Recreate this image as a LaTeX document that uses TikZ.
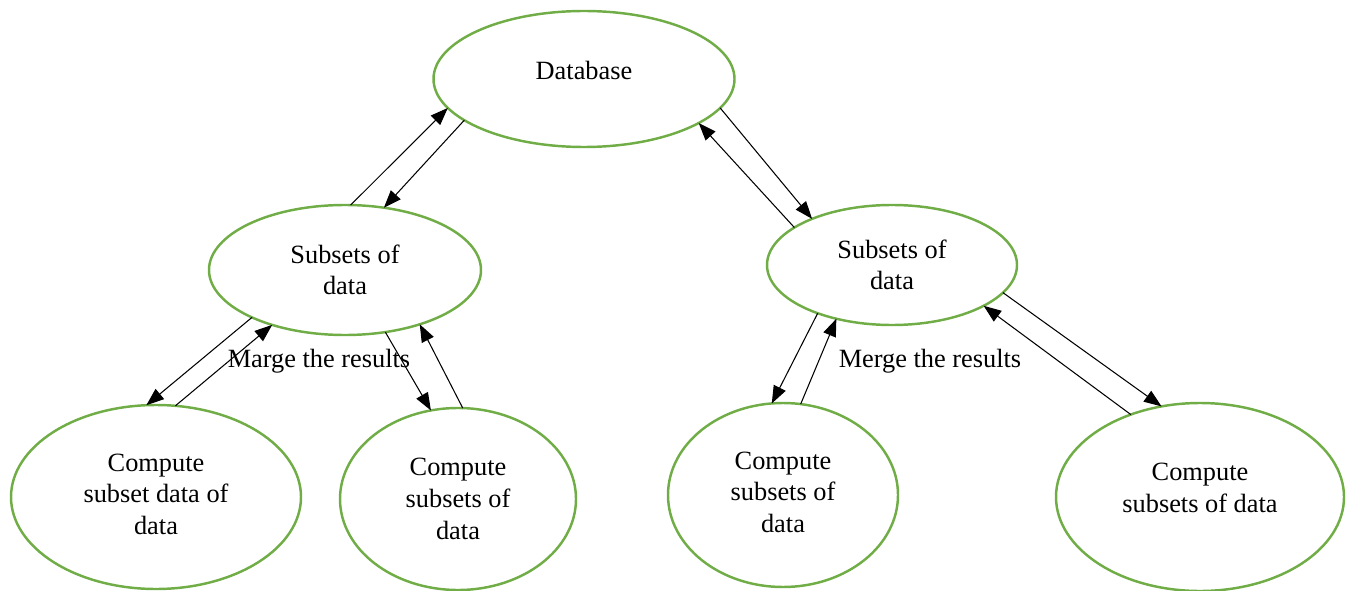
\documentclass[tikz,border=0pt]{standalone}
\usepackage{fontspec}
\setmainfont{Liberation Serif}
\usepackage{tikz}
\usetikzlibrary{arrows.meta,shapes.geometric}
\definecolor{ellgreen}{RGB}{112,173,71}

\begin{document}
\begin{tikzpicture}[x=0.02cm, y=-0.02cm]
  \tikzset{blob/.style={ellipse, draw=ellgreen, line width=1.4pt, inner sep=0pt, outer sep=0pt, align=center, font=\fontsize{15pt}{18pt}\selectfont}}
  \tikzset{plain/.style={inner sep=0pt, font=\fontsize{15pt}{18pt}\selectfont}}
  \useasboundingbox (0,0) rectangle (1348,591);
  \node[blob, minimum width=301*0.02cm, minimum height=136*0.02cm, text depth=0.36cm] (db) at (584,79) {Database};
  \node[blob, minimum width=272*0.02cm, minimum height=130*0.02cm] (sl) at (345,270) {Subsets of\\data};
  \node[blob, minimum width=250*0.02cm, minimum height=120*0.02cm] (sr) at (892,265) {Subsets of\\data};
  \node[blob, minimum width=290*0.02cm, minimum height=184*0.02cm, text depth=0.12cm] (ca) at (156,497) {Compute\\subset data of\\data};
  \node[blob, minimum width=236*0.02cm, minimum height=182*0.02cm] (cb) at (458,499) {Compute\\subsets of\\data};
  \node[blob, minimum width=230*0.02cm, minimum height=184*0.02cm, text depth=0.12cm] (cc) at (783,495) {Compute\\subsets of\\data};
  \node[blob, minimum width=288*0.02cm, minimum height=188*0.02cm, text depth=0.36cm] (cd) at (1200,497) {Compute\\subsets of data};
  \node[plain] (ml) at (319,361) {Marge the results};
  \node[plain] (mr) at (930,361) {Merge the results};

  % top level
  \tikzset{mystyle/.style={-{Triangle[length=10pt,width=7.5pt]}, line width=0.6pt}};
  \path (sl.85) edge [mystyle] (db.192);
  \path (db.199) edge [mystyle] (sl.58);
  \path (db.348) edge [mystyle] (sr.150);
  \path (sr.159) edge [mystyle] (db.339);
  % left branch
  \path (sl.207) edge [mystyle] (ca.96);
  \path (ca.78) edge [mystyle] (sl.217);
  \path (sl.303) edge [mystyle] (cb.107);
  \path (cb.87) edge [mystyle] (sl.324);
  % right branch
  \path (sr.213) edge [mystyle] (cc.97);
  \path (cc.79) edge [mystyle] (sr.224);
  \path (sr.346) edge [mystyle] (cd.113);
  \path (cd.130) edge [mystyle] (sr.336);
\end{tikzpicture}
\end{document}
